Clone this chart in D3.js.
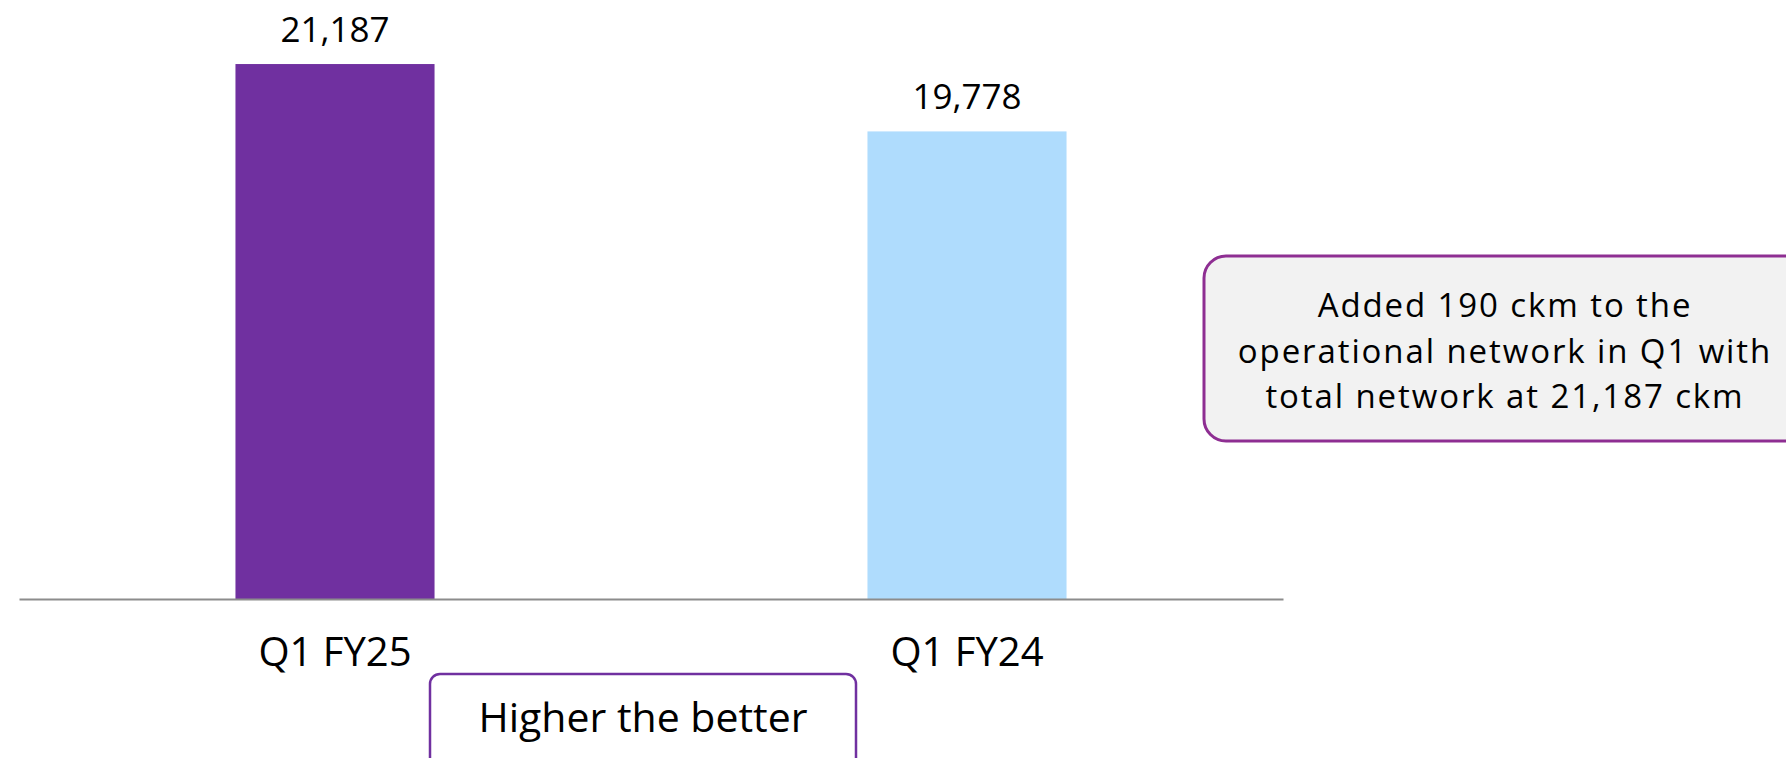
<!DOCTYPE html>
<html>
<head>
<meta charset="utf-8">
<script src="https://cdn.jsdelivr.net/npm/d3@7"></script>
<style>
html,body{margin:0;padding:0;background:#fff;}
svg{display:block;}
text{font-family:"Open Sans",sans-serif;}
</style>
</head>
<body>
<svg id="chart" width="1786" height="758"></svg>
<script>
const categories = ["Q1 FY25", "Q1 FY24"];
const values = [21187, 19778];
const barColors = ["#7030a0", "#afdcfd"];
const calloutLines = ["Added 190 ckm to the", "operational network in Q1 with", "total network at 21,187 ckm"];
const noteText = "Higher the better";

const svg = d3.select("#chart");
const FONT = '"Open Sans",sans-serif';

const x = d3.scaleBand().domain(categories).range([19, 1283]).paddingInner(0.685).paddingOuter(0.3425);
const y = d3.scaleLinear().domain([10000, 22000]).range([599, 599 - 12000 * 0.04782]);

// bars
svg.selectAll("rect.bar").data(values).enter().append("rect")
  .attr("class", "bar")
  .attr("x", (d, i) => x(categories[i]))
  .attr("width", x.bandwidth())
  .attr("y", d => y(d))
  .attr("height", d => y.range()[0] - y(d))
  .attr("fill", (d, i) => barColors[i]);

// value labels
svg.selectAll("text.val").data(values).enter().append("text")
  .attr("class", "val")
  .attr("x", (d, i) => x(categories[i]) + x.bandwidth() / 2)
  .attr("y", d => y(d) - 22)
  .attr("text-anchor", "middle")
  .attr("font-size", 35)
  .attr("fill", "#000")
  .text(d => d3.format(",")(d));

// axis
const axis = svg.append("g").attr("transform", `translate(0,${y.range()[0]})`)
  .call(d3.axisBottom(x).tickSize(0).tickPadding(0));
axis.select(".domain").attr("stroke", "#8c8c8c").attr("stroke-width", 2);
axis.selectAll(".tick text")
  .attr("font-family", FONT)
  .attr("font-size", 40)
  .attr("fill", "#000")
  .attr("dy", 0)
  .attr("y", 67);

// note box
svg.append("rect")
  .attr("x", 430).attr("y", 674).attr("width", 426).attr("height", 100)
  .attr("rx", 10).attr("fill", "#fff").attr("stroke", "#7030a0").attr("stroke-width", 2.5);
svg.append("text")
  .attr("x", 643).attr("y", 732).attr("text-anchor", "middle")
  .attr("font-size", 41).attr("fill", "#000").text(noteText);

// callout
svg.append("rect")
  .attr("x", 1204).attr("y", 256).attr("width", 604).attr("height", 185)
  .attr("rx", 22).attr("fill", "#f2f2f2").attr("stroke", "#8e2e92").attr("stroke-width", 3);
svg.append("g").selectAll("text").data(calloutLines).enter().append("text")
  .attr("x", 1505).attr("y", (d, i) => 317 + i * 45.5)
  .attr("text-anchor", "middle")
  .attr("font-size", 33).attr("letter-spacing", 1.9).attr("fill", "#000").text(d => d);
</script>
</body>
</html>
